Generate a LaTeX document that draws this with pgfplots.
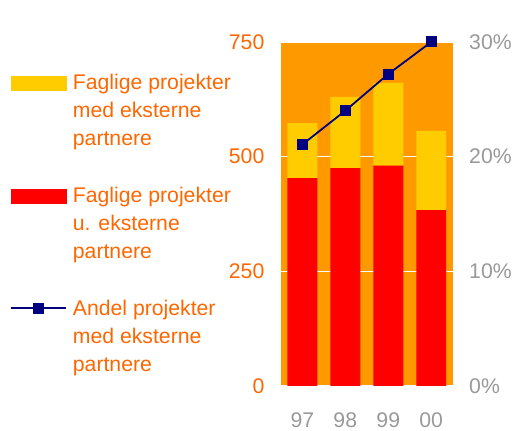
\documentclass[border=0pt]{standalone}
\usepackage{fontspec}
\setmainfont{Liberation Sans}
\usepackage{pgfplots}
\pgfplotsset{compat=1.18}
\definecolor{bgorange}{HTML}{FF9900}
\definecolor{cyellow}{HTML}{FFCC00}
\definecolor{cred}{HTML}{FF0000}
\definecolor{cnavy}{HTML}{000080}
\definecolor{torange}{HTML}{FF6600}
\definecolor{tgray}{HTML}{999999}
\begin{document}
\begin{tikzpicture}
\path (-281bp,-41bp) rectangle (234bp,386bp);
\begin{axis}[
  at={(0,0)}, anchor=south west,
  scale only axis, width=172bp, height=344bp,
  xmin=-0.5, xmax=3.5, ymin=0, ymax=750,
  axis line style={draw=none},
  axis background/.style={fill=bgorange},
  xtick={0,1,2,3}, xticklabels={97,98,99,00},
  ytick={0,250,500,750}, yticklabels={0,250,500,750},
  major tick length=0pt,
  ymajorgrids, grid style={white, line width=0.8bp},
  ybar stacked, bar width=30bp,
  /pgf/number format/assume math mode=true,
  every tick label/.append style={font=\fontsize{21.3}{24}\selectfont},
  xticklabel style={text=tgray, yshift=-23bp},
  yticklabel style={text=torange, xshift=-13bp},
]
\addplot[fill=cred, draw=none] coordinates {(0,453) (1,475) (2,480) (3,383)};
\addplot[fill=cyellow, draw=none] coordinates {(0,120) (1,155) (2,181) (3,173)};
\node[anchor=base west, text=torange, font=\fontsize{21.3}{24}\selectfont\itshape, inner sep=0pt] at (rel axis cs:0,1) [yshift=12bp, xshift=2bp] {Antal};
\end{axis}
\begin{axis}[
  at={(0,0)}, anchor=south west,
  scale only axis, width=172bp, height=344bp,
  xmin=-0.5, xmax=3.5, ymin=0, ymax=30,
  axis y line*=right, axis x line=none,
  axis line style={draw=none},
  ytick={0,10,20,30}, yticklabels={0\%,10\%,20\%,30\%},
  major tick length=0pt,
  clip=false,
  /pgf/number format/assume math mode=true,
  yticklabel style={text=tgray, font=\fontsize{21.3}{24}\selectfont, xshift=13bp},
  legend cell align=left,
  legend style={at={(axis description cs:-1.5756,0.9195)}, anchor=north west,
    draw=none, fill=none, inner sep=0pt, row sep=92bp, column sep=6bp,
    font=\fontsize{21.3}{28}\selectfont, text=torange, nodes={inner sep=0pt}},
]
\addlegendimage{legend image code/.code={\fill[cyellow] (0bp,-10bp) rectangle (55bp,4bp);}}
\addlegendentry{\begin{tabular}[t]{@{}l@{}}Faglige projekter\\med eksterne\\partnere\end{tabular}}
\addlegendimage{legend image code/.code={\fill[cred] (0bp,-10bp) rectangle (55bp,4bp);}}
\addlegendentry{\begin{tabular}[t]{@{}l@{}}Faglige projekter\\u. eksterne\\partnere\end{tabular}}
\addplot[cnavy, line width=1.8bp, mark=square*, mark size=5bp, mark options={line width=1bp},
  legend image code/.code={\draw[mark repeat=2, mark phase=2] plot coordinates {(0bp,-2bp) (27.5bp,-2bp) (55bp,-2bp)};}]
  coordinates {(0,21.05) (1,24.0) (2,27.2) (3,30)};
\addlegendentry{\begin{tabular}[t]{@{}l@{}}Andel projekter\\med eksterne\\partnere\end{tabular}}
\end{axis}
\end{tikzpicture}
\end{document}
